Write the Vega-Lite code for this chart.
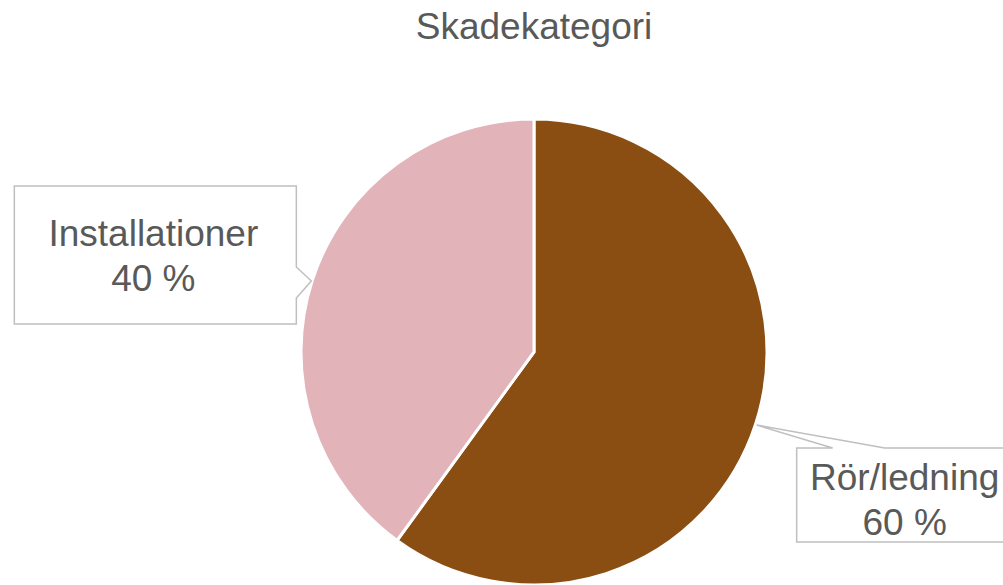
{
  "$schema": "https://vega.github.io/schema/vega-lite/v6.json",
  "width": 938,
  "height": 466,
  "autosize": {"type": "none"},
  "padding": {"left": 65, "top": 119, "right": 0, "bottom": 0},
  "background": "white",
  "config": {"view": {"stroke": null}},
  "title": {"text": "Skadekategori", "fontSize": 37, "font": "Liberation Sans", "fontWeight": "normal", "color": "#595959", "anchor": "middle", "offset": 66},
  "data": {"values": [
    {"kategori": "Rör/ledning", "andel": 60},
    {"kategori": "Installationer", "andel": 40}
  ]},
  "transform": [
    {"stack": "andel", "groupby": [], "sort": [{"field": "andel", "order": "descending"}], "as": ["s0", "s1"]},
    {"joinaggregate": [{"op": "sum", "field": "andel", "as": "total"}]},
    {"calculate": "PI*(datum.s0+datum.s1)/datum.total", "as": "mid"},
    {"calculate": "395*sin(datum.mid)", "as": "bx"},
    {"calculate": "395*cos(datum.mid)", "as": "by"},
    {"calculate": "datum.andel + ' %'", "as": "pct"}
  ],
  "layer": [
    {
      "mark": {"type": "arc", "stroke": "white", "strokeWidth": 3},
      "encoding": {
        "theta": {"field": "andel", "type": "quantitative", "stack": true},
        "order": {"field": "andel", "type": "quantitative", "sort": "descending"},
        "color": {"field": "kategori", "type": "nominal", "scale": {"domain": ["Rör/ledning", "Installationer"], "range": ["#8A4D12", "#E2B4BA"]}, "legend": null}
      }
    },
    {
      "mark": {"type": "point", "filled": true, "fill": "white", "fillOpacity": 1, "stroke": "#BFBFBF", "strokeOpacity": 1, "strokeWidth": 1.5, "size": 4},
      "encoding": {
        "x": {"field": "bx", "type": "quantitative", "scale": {"domain": [-469, 469], "nice": false, "zero": false}, "axis": null},
        "y": {"field": "by", "type": "quantitative", "scale": {"domain": [-233, 233], "nice": false, "zero": false}, "axis": null},
        "shape": {"field": "kategori", "type": "nominal", "scale": {"domain": ["Rör/ledning", "Installationer"], "range": ["M-113,-26 H-77 L-153,-49 L-25,-26 H100 V68 H-113 Z", "M-144,-44 H138 V37 L153,51 L138,68 V94 H-144 Z"]}, "legend": null}
      }
    },
    {
      "mark": {"type": "text", "radius": 395, "dy": 16, "dx": -5, "fontSize": 37, "font": "Liberation Sans", "fill": "#595959", "align": "center", "baseline": "alphabetic"},
      "encoding": {
        "theta": {"field": "andel", "type": "quantitative", "stack": true},
        "order": {"field": "andel", "type": "quantitative", "sort": "descending"},
        "text": {"field": "kategori", "type": "nominal"}
      }
    },
    {
      "mark": {"type": "text", "radius": 395, "dy": 61, "dx": -5, "fontSize": 37, "font": "Liberation Sans", "fill": "#595959", "align": "center", "baseline": "alphabetic"},
      "encoding": {
        "theta": {"field": "andel", "type": "quantitative", "stack": true},
        "order": {"field": "andel", "type": "quantitative", "sort": "descending"},
        "text": {"field": "pct", "type": "nominal"}
      }
    }
  ]
}
